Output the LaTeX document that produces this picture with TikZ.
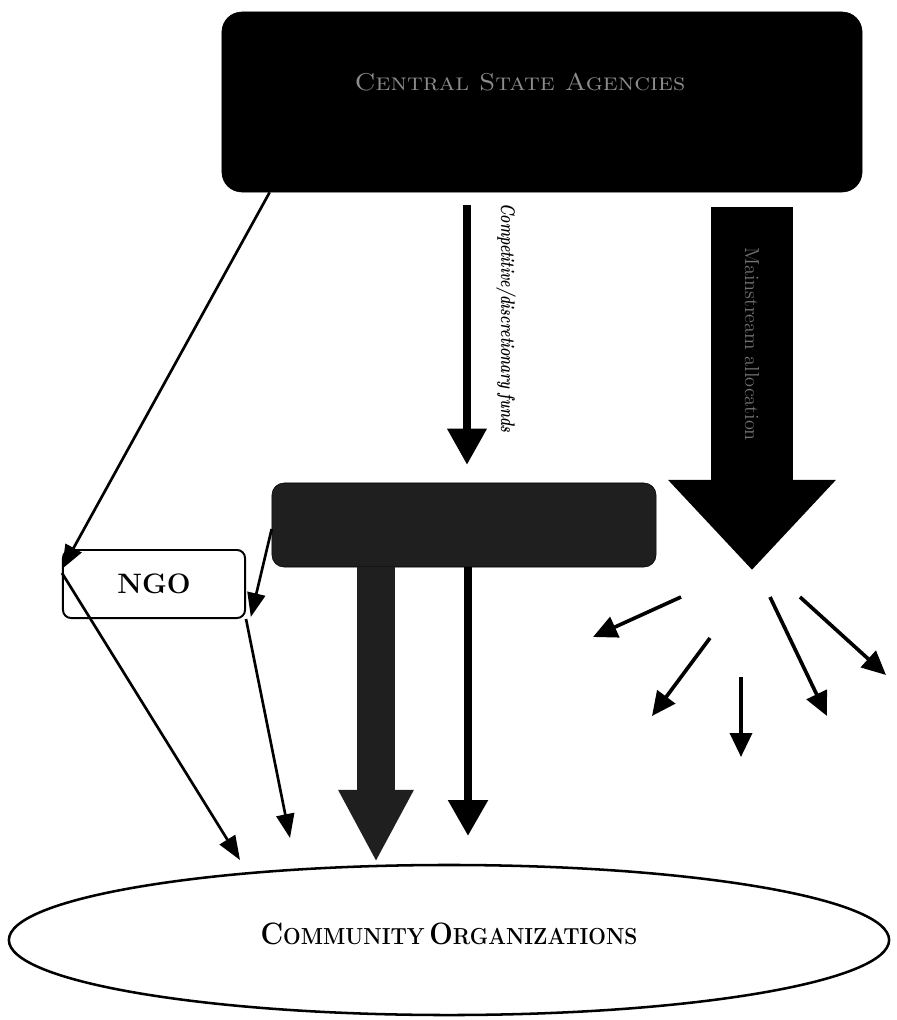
\documentclass[tikz,border=0pt]{standalone}
\usepackage{graphicx}
\usetikzlibrary{arrows.meta,shapes.geometric}
\newcommand\capword[2]{{\fontsize{22}{26}\selectfont #1}{\fontsize{16.5}{20}\selectfont #2}}
\begin{document}
\begin{tikzpicture}[x=0.025cm, y=-0.025cm,
  every node/.style = {align=center},
  agency/.style = {rectangle, rounded corners=0.5cm, draw, fill=black,
    minimum width=16cm, minimum height=4.5cm},
  broker/.style = {rectangle, rounded corners=0.3cm, draw, fill=black!88,
    minimum width=9.6cm, minimum height=2.1cm},
  ngo/.style = {rectangle, rounded corners=0.2cm, draw, line width=1.4pt,
    fill=white, minimum width=4.55cm, minimum height=1.7cm,
    font=\fontsize{20}{24}\selectfont\bfseries},
  community/.style = {ellipse, draw, line width=1.8pt, inner sep=0pt,
    minimum width=22cm, minimum height=3.75cm},
  flow/.style = {line width=5pt, -{Triangle[length=0.9cm, width=0.95cm]}},
  link/.style = {line width=1.9pt, -{Triangle[length=0.6cm, width=0.45cm]}},
  spray/.style = {line width=2.6pt, -{Triangle[length=0.6cm, width=0.55cm]}}]
\useasboundingbox (0,0) rectangle (896,1020);

\node[agency] (csa) at (542,102) {};
\node[text=black!45, font=\Large] (csalabel) at (520,82)
  {\scalebox{1.32}[1.2]{\textsc{Central State Agencies}}};

\node[broker] (broker) at (464,525) {};
\node[ngo] (ngo) at (154,584) {NGO};
\node[community] (org) at (449,940)
  {\raisebox{0.3cm}{\scalebox{0.9}[1]{\bfseries\capword{C}{OMMUNITY} \capword{O}{RGANIZATIONS}}}};

\coordinate (bigtip) at (752,570);
\coordinate (midtip) at (376,862);
\coordinate (thintip) at (468,836);
\coordinate (ngotip) at (240,860);
\coordinate (sidetip) at (290,838);

\draw[line width=2.03cm, shorten <=0.37cm,
  -{Triangle[length=2.25cm, width=4.05cm]}] (csa.south -| bigtip) -- (bigtip);
\node[rotate=-90, text=black!55, font=\Large] (mainlabel) at (752,344) {Mainstream allocation};

\draw[flow, shorten <=0.32cm, shorten >=0.45cm] (csa.south -| 467,0) -- (broker.north -| 467,0);
\node[rotate=-90, font=\bfseries\itshape] (fundslabel) at (506,318)
  {\scalebox{1}[1.4]{Competitive/discretionary funds}};

\draw[black!88, line width=0.95cm, -{Triangle[length=1.8cm, width=1.75cm]}]
  (broker.south -| midtip) -- (midtip);
\draw[flow, line width=6pt] (broker.south -| thintip) -- (thintip);

\draw[link] ([xshift=1.2cm]csa.south west) -- ([yshift=-0.5cm]ngo.north west);
\draw[link] ([yshift=-0.1cm]broker.west) -- ([xshift=0.12cm,yshift=0.05cm]ngo.south east);
\draw[link] ([yshift=-0.6cm]ngo.north west) -- (ngotip);
\draw[link] (ngo.south east) -- (sidetip);

\foreach \xa/\ya/\xb/\yb in {681/597/593/637, 710/638/652/716, 741/677/741/757,
  770/597/827/716, 800/597/886/675}
  \draw[spray] (\xa,\ya) -- (\xb,\yb);
\end{tikzpicture}
\end{document}
